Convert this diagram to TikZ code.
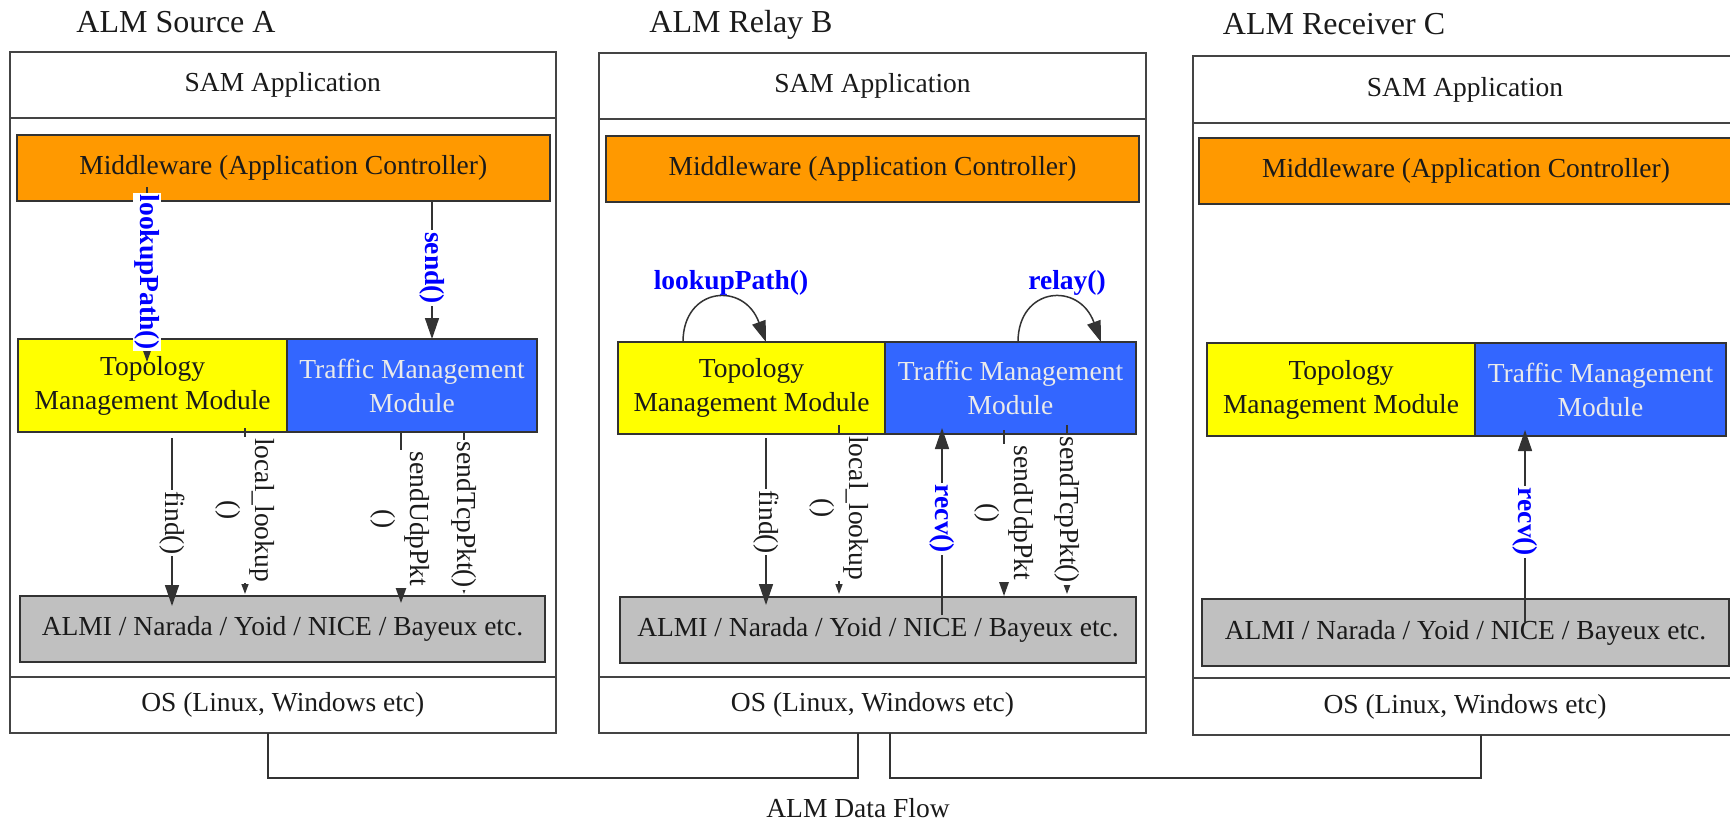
\documentclass[tikz,border=0pt]{standalone}
\usepackage{fontspec}
\setmainfont{Liberation Serif}
\usetikzlibrary{arrows.meta}

\definecolor{mwcol}{HTML}{FF9900}
\definecolor{topcol}{HTML}{FFFF00}
\definecolor{trafcol}{HTML}{3366FF}
\definecolor{almcol}{HTML}{C0C0C0}
\definecolor{edgecol}{HTML}{333333}
\definecolor{framecol}{HTML}{444444}
\definecolor{callblue}{HTML}{0000FF}
\definecolor{ink}{HTML}{1A1A1A}
\definecolor{lighttext}{HTML}{EAEAEA}

\newcommand\bodyfont{\fontsize{13.75}{17}\selectfont}
\newcommand\titlefont{\fontsize{16}{19}\selectfont}

% box from (x1,y1) to (x2,y2) in pixel units: name, x1, y1, x2, y2, style, text
\newcommand\mkbox[7]{%
  \node[#6, minimum width={(#4-#2)*0.5pt}, minimum height={(#5-#3)*0.5pt}]
    (#1) at ({(#2+#4)/2},{(#3+#5)/2}) {#7};}

\tikzset{
  box/.style={draw=edgecol, line width=1pt, inner sep=0pt, outer sep=0pt, align=center},
  host/.style={draw=framecol, line width=1pt, inner sep=0pt, outer sep=0pt, align=center},
  mwbox/.style={box, fill=mwcol},
  topobox/.style={box, fill=topcol},
  trafbox/.style={box, fill=trafcol, text=lighttext},
  almbox/.style={box, fill=almcol},
  call/.style={draw=edgecol, line width=0.75pt},
  bighead/.style={-{Triangle[length=10.5pt,width=7pt]}},
  midhead/.style={-{Triangle[length=8pt,width=5.5pt]}},
  smallhead/.style={-{Triangle[length=5pt,width=3.5pt]}},
  vlab/.style={rotate=-90, fill=white, inner sep=0.8pt, align=center, text=ink},
  bluelab/.style={font=\bodyfont\bfseries, text=callblue},
  title/.style={font=\titlefont, text=ink, anchor=base},
}

\begin{document}
\begin{tikzpicture}[x=0.5pt, y=-0.5pt, font=\bodyfont, text=ink]
\useasboundingbox (0,0) rectangle (1730,824);
\clip (0,0) rectangle (1730,824);

% ---------- host A : source ----------
\node[title] (tA) at (176,33) {ALM Source A};
\mkbox{hostA}{9.6}{52}{556}{733}{host}{}
\mkbox{samA}{9.6}{52}{556}{118}{host}{SAM Application}
\mkbox{osA}{9.6}{677}{556}{733}{host}{OS (Linux, Windows etc)}
\mkbox{mwA}{16.5}{135}{550}{201}{mwbox}{Middleware (Application Controller)}
\mkbox{topoA}{18.4}{339}{287}{432}{topobox}{Topology\\Management Module}
\mkbox{trafA}{287}{339}{537}{432}{trafbox}{Traffic Management\\Module}
\mkbox{almA}{20}{596}{545}{662}{almbox}{ALMI / Narada / Yoid / NICE / Bayeux etc.}

% ---------- host B : relay ----------
\node[title] (tB) at (741,33) {ALM Relay B};
\mkbox{hostB}{599}{53}{1146}{733}{host}{}
\mkbox{samB}{599}{53}{1146}{119}{host}{SAM Application}
\mkbox{osB}{599}{677}{1146}{733}{host}{OS (Linux, Windows etc)}
\mkbox{mwB}{606}{136}{1139}{202}{mwbox}{Middleware (Application Controller)}
\mkbox{topoB}{618}{342}{885}{434}{topobox}{Topology\\Management Module}
\mkbox{trafB}{885}{342}{1136}{434}{trafbox}{Traffic Management\\Module}
\mkbox{almB}{620}{597}{1136}{663}{almbox}{ALMI / Narada / Yoid / NICE / Bayeux etc.}

% ---------- host C : receiver ----------
\node[title] (tC) at (1334,35) {ALM Receiver C};
\mkbox{hostC}{1193}{56}{1737}{735}{host}{}
\mkbox{samC}{1193}{56}{1737}{123}{host}{SAM Application}
\mkbox{osC}{1193}{678}{1737}{735}{host}{OS (Linux, Windows etc)}
\mkbox{mwC}{1199}{138}{1733}{204}{mwbox}{Middleware (Application Controller)}
\mkbox{topoC}{1207}{343}{1475}{436}{topobox}{Topology\\Management Module}
\mkbox{trafC}{1475}{343}{1726}{436}{trafbox}{Traffic Management\\Module}
\mkbox{almC}{1202}{599}{1729}{666}{almbox}{ALMI / Narada / Yoid / NICE / Bayeux etc.}

% ---------- calls in A ----------
\coordinate (lpA1) at (147,187);  \coordinate (lpA2) at (147,362);
\coordinate (sdA1) at (432,201);  \coordinate (sdA2) at (432,339);
\coordinate (fdA1) at (172,438);  \coordinate (fdA2) at (172,606);
\coordinate (llA1) at (245,428);  \coordinate (llA2) at (245,594);
\coordinate (suA1) at (401,433);  \coordinate (suA2) at (401,603);
\coordinate (stA1) at (464,432);  \coordinate (stA2) at (464,594);
\draw[call, midhead]   (lpA1) -- (lpA2);
\draw[call, bighead]   (sdA1) -- (sdA2);
\draw[call, bighead]   (fdA1) -- (fdA2);
\draw[call, smallhead] (llA1) -- (llA2);
\draw[call, midhead]   (suA1) -- (suA2);
\draw[call, smallhead] (stA1) -- (stA2);
\node[vlab, bluelab] (lpAl) at (147,272) {lookupPath()};
\node[vlab, bluelab] (sdAl) at (432,268) {send()};
\node[vlab] (fdAl) at (172,523) {find()};
\node[vlab] (llAl) at (245,510) {local\_lookup\\()};
\node[vlab] (suAl) at (400,519) {sendUdpPkt\\()};
\node[vlab] (stAl) at (464,515) {sendTcpPkt()};

% ---------- calls in B ----------
\coordinate (lpB1) at (683,342);  \coordinate (lpB2) at (766,342);
\coordinate (rlB1) at (1018,342); \coordinate (rlB2) at (1101,342);
\draw[call, bighead] (lpB1) .. controls (683,287) and (744,281) .. (lpB2);
\draw[call, bighead] (rlB1) .. controls (1018,287) and (1079,281) .. (rlB2);
\node[bluelab] (lpBl) at (731,283) {lookupPath()};
\node[bluelab] (rlBl) at (1067,283) {relay()};

\coordinate (fdB1) at (766,438);  \coordinate (fdB2) at (766,605);
\coordinate (llB1) at (839,425);  \coordinate (llB2) at (839,594);
\coordinate (rvB1) at (942,615);  \coordinate (rvB2) at (942,428);
\coordinate (suB1) at (1004,430); \coordinate (suB2) at (1004,596);
\coordinate (stB1) at (1067,425); \coordinate (stB2) at (1067,594);
\draw[call, bighead]   (fdB1) -- (fdB2);
\draw[call, smallhead] (llB1) -- (llB2);
\draw[call, bighead]   (rvB1) -- (rvB2);
\draw[call, midhead]   (suB1) -- (suB2);
\draw[call, smallhead] (stB1) -- (stB2);
\node[vlab] (fdBl) at (766,522) {find()};
\node[vlab] (llBl) at (839,508) {local\_lookup\\()};
\node[vlab, bluelab] (rvBl) at (942,519) {recv()};
\node[vlab] (suBl) at (1004,513) {sendUdpPkt\\()};
\node[vlab] (stBl) at (1067,510) {sendTcpPkt()};

% ---------- calls in C ----------
\coordinate (rvC1) at (1525,622); \coordinate (rvC2) at (1525,430);
\draw[call, bighead] (rvC1) -- (rvC2);
\node[vlab, bluelab] (rvCl) at (1525,522) {recv()};

% ---------- data flow between hosts ----------
\coordinate (dA)  at (268,733);
\coordinate (dB1) at (858,733);
\coordinate (dB2) at (890,733);
\coordinate (dC)  at (1481,735);
\draw[call] (dA) -- ++(0,45) -| (dB1);
\draw[call] (dB2) -- ++(0,45) -| (dC);
\node (flow) at (858,808) {ALM Data Flow};
\end{tikzpicture}
\end{document}
